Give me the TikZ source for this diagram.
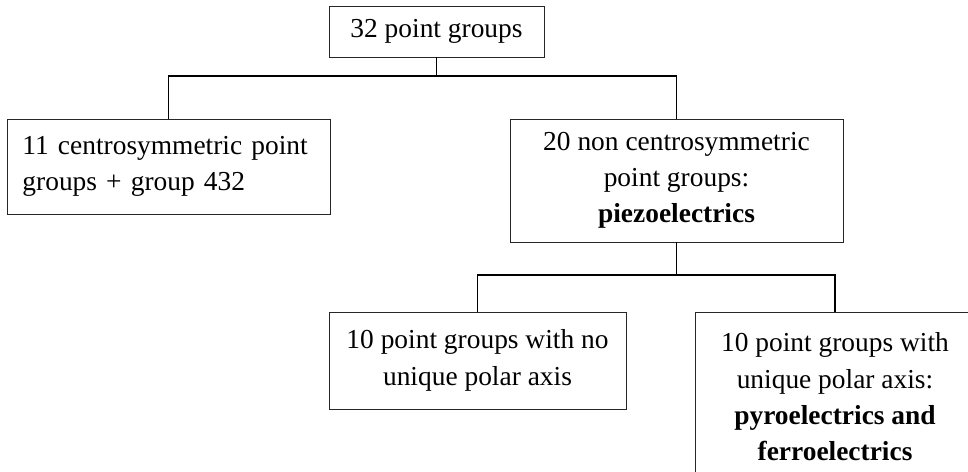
\documentclass[tikz,border=0pt]{standalone}
\usepackage{fontspec}
\setmainfont{Liberation Serif}

\begin{document}
\begin{tikzpicture}[x=0.025cm, y=-0.025cm,
    box/.style={rectangle, draw=black!85, line width=0.6pt, inner sep=0pt, align=center,
        font=\fontsize{19.5}{25.8}\selectfont},
    link/.style={draw=black, line width=0.9pt}]
    \clip (0, 0) rectangle (968, 472);

    \node[box, minimum width=5.375cm, minimum height=1.275cm] (all) at (436.5, 31.5) {32 point groups};
    \node[box, minimum width=8.075cm, minimum height=2.375cm, text width=7.3cm, align=left] (centro) at (168.5, 166.5)
        {11 centrosymmetric point\\groups + group 432};
    \node[box, minimum width=8.325cm, minimum height=3.075cm] (noncentro) at (676.5, 180.5)
        {20 non centrosymmetric\\point groups:\\\textbf{piezoelectrics}};
    \node[box, minimum width=7.425cm, minimum height=2.425cm] (nopolar) at (477.5, 360.5)
        {10 point groups with no\\unique polar axis};
    \node[box, minimum width=7cm, minimum height=4.25cm] (polar) at (835, 397)
        {10 point groups with\\unique polar axis:\\\textbf{pyroelectrics and}\\\textbf{ferroelectrics}};

    \coordinate (split1) at (436.5, 76);
    \coordinate (split2) at (676.5, 275);

    \draw[link] (all) -- (split1);
    \draw[link] (split1) -| (centro);
    \draw[link] (split1) -| (noncentro);
    \draw[link] (noncentro) -- (split2);
    \draw[link] (split2) -| (nopolar);
    \draw[link] (split2) -| (polar);
\end{tikzpicture}
\end{document}
